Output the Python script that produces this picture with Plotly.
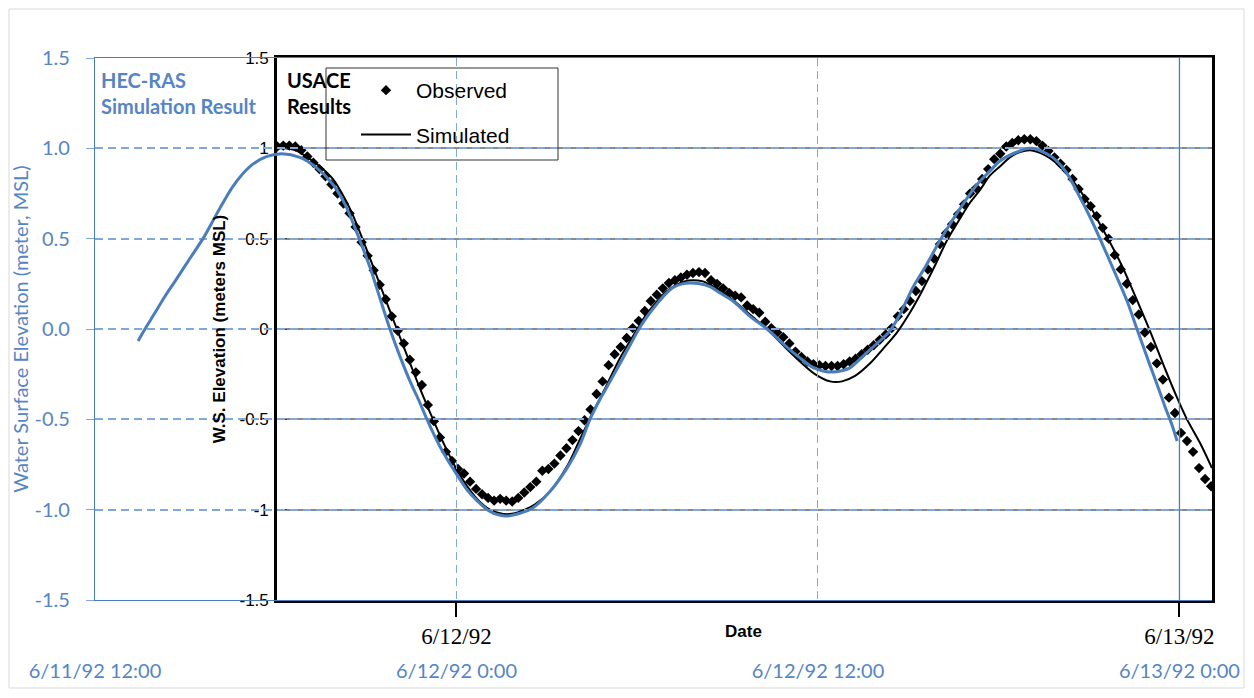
import plotly.graph_objects as go

# ---------------- data (hours after 6/11/92 12:00, elevation m MSL) ----------------
outer_x_tickvals = [0, 12, 24, 36]
outer_x_ticktext = ["6/11/92 12:00", "6/12/92 0:00", "6/12/92 12:00", "6/13/92 0:00"]
inner_x_tickvals = [12, 36]
inner_x_ticktext = ["6/12/92", "6/13/92"]
y_tickvals = [-1.5, -1.0, -0.5, 0.0, 0.5, 1.0, 1.5]
outer_y_ticktext = ["-1.5", "-1.0", "-0.5", "0.0", "0.5", "1.0", "1.5"]
inner_y_ticktext = ["-1.5", "-1", "-0.5", "0", "0.5", "1", "1.5"]

x_end = 37.08        # right edge of both charts
inner_start = 6.04   # left edge of the USACE chart

hec_hours = [1.43, 1.66, 1.99, 2.32, 2.66, 3.15, 3.62, 4.05, 4.58, 5.15,
             5.71, 6.21, 6.80, 7.30, 7.90, 8.30, 8.63, 9.13, 9.46, 9.79,
             10.12, 10.46, 10.79, 11.02, 11.45, 11.95, 12.35, 12.68, 13.11, 13.61,
             14.11, 14.54, 15.10, 15.67, 16.10, 16.43, 16.76, 17.10, 17.53, 17.76,
             18.09, 18.42, 18.66, 18.92, 19.19, 19.49, 19.75, 20.08, 20.41, 20.75,
             21.18, 21.74, 22.31, 22.90, 23.40, 23.80, 24.23, 24.66, 25.06, 25.56,
             26.16, 26.39, 26.72, 27.15, 27.55, 28.05, 28.38, 28.81, 29.28, 29.71,
             30.04, 30.47, 31.04, 31.60, 31.93, 32.27, 32.60, 33.03, 33.36, 33.86,
             34.26, 34.59, 35.02, 35.35, 35.52, 35.75, 35.92]
hec_level = [-0.066, 0.0, 0.09, 0.18, 0.265, 0.39, 0.51, 0.64, 0.79, 0.90,
             0.955, 0.97, 0.95, 0.90, 0.80, 0.69, 0.56, 0.34, 0.17, 0.0,
             -0.15, -0.29, -0.41, -0.50, -0.65, -0.79, -0.89, -0.95, -1.01, -1.035,
             -1.02, -0.99, -0.90, -0.77, -0.64, -0.50, -0.39, -0.29, -0.16, -0.09,
             0.01, 0.09, 0.14, 0.19, 0.23, 0.25, 0.255, 0.25, 0.235, 0.20,
             0.155, 0.07, 0.0, -0.09, -0.16, -0.21, -0.235, -0.235, -0.215, -0.14,
             -0.05, -0.01, 0.08, 0.23, 0.34, 0.49, 0.58, 0.69, 0.80, 0.875,
             0.93, 0.97, 1.0, 0.97, 0.93, 0.86, 0.76, 0.62, 0.50, 0.31,
             0.155, 0.0, -0.20, -0.35, -0.43, -0.53, -0.62]

sim_hours = [6.04, 6.31, 6.64, 6.97, 7.47, 7.90, 8.30, 8.56, 8.90, 9.29,
             9.63, 10.02, 10.46, 10.79, 11.22, 11.62, 11.95, 12.35, 12.68, 13.11,
             13.44, 13.68, 13.94, 14.27, 14.61, 15.10, 15.67, 16.10, 16.53, 16.93,
             17.43, 17.93, 18.26, 18.59, 18.92, 19.25, 19.59, 19.85, 20.15, 20.58,
             21.18, 21.74, 22.31, 22.90, 23.40, 23.90, 24.40, 24.80, 25.23, 25.73,
             26.16, 26.62, 27.05, 27.39, 27.88, 28.28, 28.71, 29.05, 29.38, 29.71,
             30.04, 30.37, 30.71, 31.04, 31.37, 31.70, 32.03, 32.46, 32.93, 33.36,
             33.69, 34.09, 34.46, 35.02, 35.52, 35.92, 36.25, 36.68, 37.08]
sim_level = [1.0, 1.0, 0.99, 0.96, 0.90, 0.83, 0.72, 0.63, 0.49, 0.32,
             0.17, 0.0, -0.19, -0.33, -0.50, -0.65, -0.76, -0.87, -0.94, -1.0,
             -1.02, -1.025, -1.02, -1.0, -0.97, -0.90, -0.76, -0.61, -0.46, -0.33,
             -0.16, -0.02, 0.07, 0.14, 0.20, 0.24, 0.265, 0.27, 0.265, 0.23,
             0.16, 0.08, 0.0, -0.10, -0.18, -0.25, -0.29, -0.29, -0.26, -0.19,
             -0.11, -0.02, 0.09, 0.19, 0.35, 0.49, 0.61, 0.70, 0.77, 0.85,
             0.90, 0.95, 0.98, 0.99, 0.975, 0.945, 0.90, 0.82, 0.71, 0.58,
             0.48, 0.35, 0.21, -0.01, -0.22, -0.38, -0.50, -0.63, -0.77]

obs_hours = [6.05, 6.25, 6.45, 6.65, 6.85, 7.05, 7.25, 7.45, 7.65, 7.85,
             8.05, 8.25, 8.45, 8.65, 8.85, 9.05, 9.25, 9.45, 9.65, 9.85,
             10.05, 10.25, 10.45, 10.65, 10.85, 11.05, 11.25, 11.45, 11.65, 11.85,
             12.05, 12.25, 12.45, 12.65, 12.85, 13.05, 13.25, 13.45, 13.65, 13.85,
             14.05, 14.25, 14.45, 14.65, 14.85, 15.05, 15.25, 15.45, 15.65, 15.85,
             16.05, 16.25, 16.45, 16.65, 16.85, 17.05, 17.25, 17.45, 17.65, 17.85,
             18.05, 18.25, 18.45, 18.65, 18.85, 19.05, 19.25, 19.45, 19.65, 19.85,
             20.05, 20.25, 20.45, 20.65, 20.85, 21.05, 21.25, 21.45, 21.65, 21.85,
             22.05, 22.25, 22.45, 22.65, 22.85, 23.05, 23.25, 23.45, 23.65, 23.85,
             24.05, 24.25, 24.45, 24.65, 24.85, 25.05, 25.25, 25.45, 25.65, 25.85,
             26.05, 26.25, 26.45, 26.65, 26.85, 27.05, 27.25, 27.45, 27.65, 27.85,
             28.05, 28.25, 28.45, 28.65, 28.85, 29.05, 29.25, 29.45, 29.65, 29.85,
             30.05, 30.25, 30.45, 30.65, 30.85, 31.05, 31.25, 31.45, 31.65, 31.85,
             32.05, 32.25, 32.45, 32.65, 32.85, 33.05, 33.25, 33.45, 33.65, 33.85,
             34.05, 34.25, 34.45, 34.65, 34.85, 35.05, 35.25, 35.45, 35.65, 35.85,
             36.05, 36.25, 36.45, 36.65, 36.85, 37.05]
obs_level = [1.01, 1.015, 1.015, 1.01, 0.99, 0.955, 0.92, 0.885, 0.845, 0.80,
             0.75, 0.695, 0.64, 0.565, 0.48, 0.405, 0.325, 0.245, 0.165, 0.07,
             -0.01, -0.08, -0.17, -0.24, -0.31, -0.42, -0.51, -0.60, -0.68, -0.73,
             -0.775, -0.80, -0.845, -0.885, -0.915, -0.935, -0.95, -0.94, -0.95, -0.955,
             -0.935, -0.905, -0.875, -0.845, -0.785, -0.775, -0.745, -0.70, -0.66, -0.615,
             -0.565, -0.505, -0.445, -0.36, -0.29, -0.20, -0.14, -0.10, -0.05, 0.005,
             0.045, 0.10, 0.155, 0.19, 0.225, 0.255, 0.27, 0.285, 0.30, 0.31,
             0.315, 0.31, 0.27, 0.25, 0.225, 0.20, 0.185, 0.175, 0.13, 0.11,
             0.09, 0.04, 0.005, -0.02, -0.045, -0.08, -0.125, -0.155, -0.18, -0.195,
             -0.20, -0.205, -0.205, -0.205, -0.195, -0.18, -0.165, -0.14, -0.115, -0.09,
             -0.06, -0.03, 0.005, 0.07, 0.11, 0.155, 0.21, 0.265, 0.33, 0.39,
             0.47, 0.53, 0.58, 0.635, 0.69, 0.75, 0.78, 0.83, 0.885, 0.94,
             0.97, 1.01, 1.03, 1.045, 1.05, 1.05, 1.04, 1.015, 0.985, 0.95,
             0.915, 0.88, 0.83, 0.775, 0.72, 0.68, 0.625, 0.56, 0.50, 0.41,
             0.33, 0.25, 0.16, 0.08, -0.02, -0.10, -0.19, -0.28, -0.38, -0.465,
             -0.575, -0.62, -0.68, -0.77, -0.83, -0.87]

# ---------------- styles ----------------
BLUE_TXT = "#5585c5"
BLUE_LINE = "#4a7ebb"
BLUE_GRID = "#80a8da"
CAL = "Lato, Open Sans, sans-serif"
ARIAL = "Arial, Liberation Sans, sans-serif"
TIMES = "Times New Roman, Liberation Serif, serif"

# plot area in page pixels (page body has an 8px margin)
PX_L, PX_R, PX_T, PX_B = 95, 1212, 58, 600
PW, PH = PX_R - PX_L, PX_B - PX_T


def px(xp):
    return (xp - PX_L) / PW


def py(yp):
    return (PX_B - yp) / PH


fig = go.Figure()

# USACE chart (inner subplot x/y, drawn first)
fig.add_trace(go.Scatter(
    x=obs_hours, y=obs_level, mode="markers", name="Observed",
    marker=dict(symbol="diamond", size=8, color="black"),
    xaxis="x", yaxis="y", legendgroup="a"))
fig.add_trace(go.Scatter(
    x=sim_hours, y=sim_level, mode="lines", name="Simulated",
    line=dict(color="black", width=2, shape="spline", smoothing=0.8),
    xaxis="x", yaxis="y", legendgroup="b"))

# HEC-RAS result (outer subplot x2/y2, drawn on top)
fig.add_trace(go.Scatter(
    x=hec_hours, y=hec_level, mode="lines", name="HEC-RAS",
    line=dict(color=BLUE_LINE, width=3, shape="spline", smoothing=0.8),
    xaxis="x2", yaxis="y2", showlegend=False))

inner_dom = inner_start / x_end

W, H = 1238, 682
fig.update_layout(
    width=W, height=H,
    margin=dict(l=PX_L - 8, r=W - (PX_R - 8), t=PX_T - 8, b=H - (PX_B - 8)),
    paper_bgcolor="white", plot_bgcolor="rgba(0,0,0,0)",
    showlegend=True,
    legend=dict(x=px(356), y=py(70), xanchor="left", yanchor="top",
                bgcolor="rgba(0,0,0,0)", borderwidth=0, itemwidth=50,
                font=dict(family=ARIAL, size=21, color="black"),
                tracegroupgap=14),
    # inner (USACE) axes
    xaxis=dict(domain=[inner_dom, 1], range=[inner_start, x_end], anchor="y",
               automargin=False,
               tickmode="array", tickvals=inner_x_tickvals, ticktext=inner_x_ticktext,
               ticks="outside", ticklen=14, tickwidth=1.5, tickcolor="black",
               tickfont=dict(family=TIMES, size=23, color="black"),
               showgrid=False, zeroline=False,
               showline=True, linecolor="black", linewidth=2.5, mirror=True),
    yaxis=dict(domain=[0, 1], range=[-1.5, 1.5], anchor="x",
               automargin=False,
               tickmode="array", tickvals=y_tickvals, ticktext=inner_y_ticktext,
               ticks="inside", ticklen=10, tickwidth=1, tickcolor="#444",
               ticklabelstandoff=2,
               tickfont=dict(family=ARIAL, size=17, color="black"),
               showgrid=True, gridcolor="#8a8a8a", gridwidth=1.5, zeroline=False,
               showline=True, linecolor="black", linewidth=2.5, mirror=True,
               title=dict(text="<b>W.S. Elevation (meters MSL)</b>", standoff=10,
                          font=dict(family=ARIAL, size=17, color="black"))),
    # outer (HEC-RAS) axes
    xaxis2=dict(domain=[0, 1], range=[0, x_end], anchor="y2",
                automargin=False,
                tickmode="array", tickvals=outer_x_tickvals, ticktext=outer_x_ticktext,
                ticks="", ticklabelstandoff=53,
                tickfont=dict(family=CAL, size=20, color=BLUE_TXT),
                showgrid=True, gridcolor=BLUE_GRID, gridwidth=1.3, griddash="8px,5px",
                zeroline=False,
                showline=True, linecolor=BLUE_LINE, linewidth=1.3, mirror=True),
    yaxis2=dict(domain=[0, 1], range=[-1.5, 1.5], anchor="x2",
                automargin=False,
                tickmode="array", tickvals=y_tickvals, ticktext=outer_y_ticktext,
                ticks="outside", ticklen=8, tickwidth=1.3, tickcolor=BLUE_GRID,
                ticklabelstandoff=12,
                tickfont=dict(family=CAL, size=20, color=BLUE_TXT),
                showgrid=True, gridcolor=BLUE_GRID, gridwidth=1.5, griddash="8px,5px",
                zeroline=False,
                showline=True, linecolor=BLUE_LINE, linewidth=1.3,
                title=dict(text="Water Surface Elevation (meter, MSL)", standoff=0,
                           font=dict(family=CAL, size=20, color=BLUE_TXT))),
)

# solid blue vertical at 6/13/92 0:00
fig.add_shape(type="line", xref="x2", yref="paper",
              x0=outer_x_tickvals[3], x1=outer_x_tickvals[3], y0=0, y1=1,
              line=dict(color=BLUE_LINE, width=1.3), layer="above")
# legend box of the USACE chart
fig.add_shape(type="rect", xref="paper", yref="paper",
              x0=px(326), x1=px(558), y0=py(160), y1=py(68),
              line=dict(color="#333", width=1), fillcolor="rgba(0,0,0,0)", layer="above")
# outer light frame
fig.add_shape(type="rect", xref="paper", yref="paper",
              x0=px(9), x1=px(1244), y0=py(688), y1=py(9),
              line=dict(color="#d9d9d9", width=1), layer="below")

fig.add_annotation(text="<b>HEC-RAS<br>Simulation Result</b>", xref="paper", yref="paper",
                   x=px(99), y=py(66), xanchor="left", yanchor="top",
                   align="left", showarrow=False,
                   font=dict(family=CAL, size=20, color=BLUE_TXT))
fig.add_annotation(text="<b>USACE<br>Results</b>", xref="paper", yref="paper",
                   x=px(285), y=py(66), xanchor="left", yanchor="top",
                   align="left", showarrow=False,
                   font=dict(family=CAL, size=20, color="black"))
fig.add_annotation(text="<b>Date</b>", xref="paper", yref="paper",
                   x=px(743), y=py(631), xanchor="center", yanchor="middle",
                   showarrow=False, font=dict(family=ARIAL, size=17, color="black"))

fig.write_html("out.html")
